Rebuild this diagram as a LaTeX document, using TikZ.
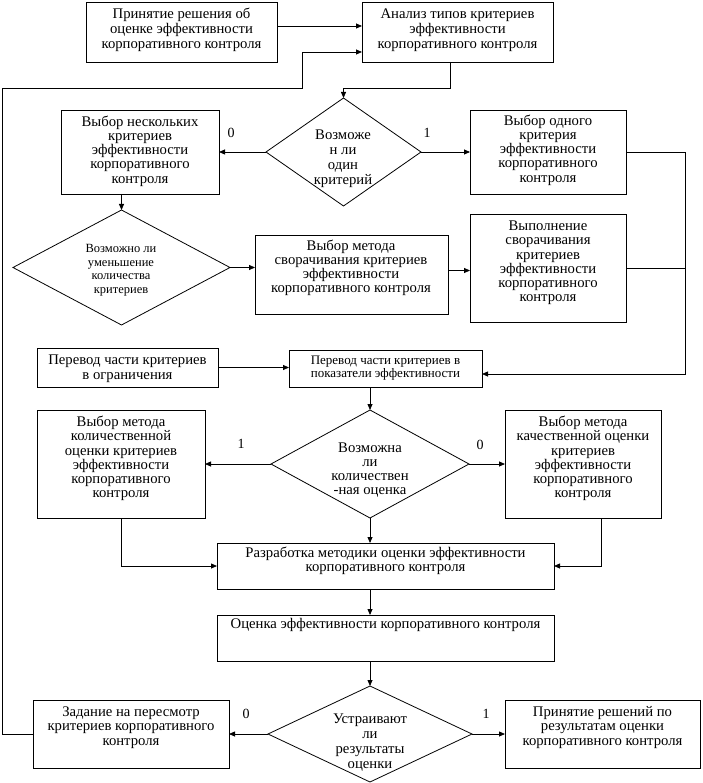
\documentclass[tikz,border=0pt]{standalone}
\usepackage{fontspec}
\setmainfont{Liberation Serif}
\usetikzlibrary{arrows.meta,shapes.geometric,calc}
\begin{document}
\begin{tikzpicture}[x=1pt,y=-1pt,line width=0.8pt,
  box/.style={draw,rectangle,inner sep=0pt,outer sep=0pt},
  dia/.style={draw,diamond,inner sep=0pt,outer sep=0pt},
  txt/.style={align=center,inner sep=0pt,font=\fontsize{14.7}{14.2}\selectfont},
  txtw/.style={align=center,inner sep=0pt,font=\fontsize{14.7}{15}\selectfont},
  txts/.style={align=center,inner sep=0pt,font=\fontsize{12.5}{13.5}\selectfont},
  txtj/.style={align=center,inner sep=0pt,font=\fontsize{13}{12.5}\selectfont},
  lbl/.style={inner sep=0pt,font=\fontsize{14}{14}\selectfont},
  arr/.style={-{Triangle[length=6pt,width=5pt]}}]
\useasboundingbox (0,0) rectangle (702,783);
\fill[white] (0,0) rectangle (702,783);

% boxes
\node[box,minimum width=191pt,minimum height=60pt] (A) at (181.5,32) {};
\node[box,minimum width=191pt,minimum height=60pt] (B) at (457.5,32) {};
\node[box,minimum width=158pt,minimum height=84pt] (C) at (140,152) {};
\node[dia,minimum width=155pt,minimum height=108pt] (D1) at (343.5,152) {};
\node[box,minimum width=156pt,minimum height=84pt] (E) at (548,152) {};
\node[dia,minimum width=217pt,minimum height=115pt] (D2) at (121.5,267.5) {};
\node[box,minimum width=193pt,minimum height=79pt] (G) at (351.5,274.5) {};
\node[box,minimum width=156pt,minimum height=108pt] (H) at (548,268) {};
\node[box,minimum width=181pt,minimum height=39pt] (I) at (127.5,367.5) {};
\node[box,minimum width=193pt,minimum height=37pt] (J) at (385.5,368.5) {};
\node[dia,minimum width=198pt,minimum height=108pt] (D3) at (370,464) {};
\node[box,minimum width=168pt,minimum height=108pt] (K) at (121,464) {};
\node[box,minimum width=156pt,minimum height=108pt] (L) at (583,464) {};
\node[box,minimum width=337pt,minimum height=46pt] (M) at (385.5,566) {};
\node[box,minimum width=337pt,minimum height=46pt] (N) at (385.5,638) {};
\node[dia,minimum width=204pt,minimum height=96pt] (D4) at (370,734) {};
\node[box,minimum width=196pt,minimum height=68pt] (O) at (131,734) {};
\node[box,minimum width=195pt,minimum height=68pt] (P) at (602.5,734) {};

% texts
\node[txtw] (At) at (181.5,30) {Принятие решения об\\оценке эффективности\\корпоративного контроля};
\node[txtw] (Bt) at (457.5,30) {Анализ типов критериев\\эффективности\\корпоративного контроля};
\node[txt] (Ct) at (140,151) {Выбор нескольких\\критериев\\эффективности\\корпоративного\\контроля};
\node[txtw] (D1t) at (343,159) {Возможе\\н ли\\один\\критерий};
\node[txt] (Et) at (548,150) {Выбор одного\\критерия\\эффективности\\корпоративного\\контроля};
\node[txts] (D2t) at (121,270) {Возможно ли\\уменьшение\\количества\\критериев};
\node[txt] (Gt) at (351,268) {Выбор метода\\сворачивания критериев\\эффективности\\корпоративного контроля};
\node[txt] (Ht) at (548,263) {Выполнение\\сворачивания\\критериев\\эффективности\\корпоративного\\контроля};
\node[txtw] (It) at (127.5,369) {Перевод части критериев\\в ограничения};
\node[txtj] (Jt) at (385.5,368) {Перевод части критериев в\\показатели эффективности};
\node[txt] (D3t) at (370,470) {Возможна\\ли\\количествен\\-ная оценка};
\node[txt] (Kt) at (121,458.5) {Выбор метода\\количественной\\оценки критериев\\эффективности\\корпоративного\\контроля};
\node[txt] (Lt) at (583,458.5) {Выбор метода\\качественной оценки\\критериев\\эффективности\\корпоративного\\контроля};
\node[txt] (Mt) at (385.5,561) {Разработка методики оценки эффективности\\корпоративного контроля};
\node[txt] (Nt) at (385.5,625) {Оценка эффективности корпоративного контроля};
\node[txtw] (D4t) at (370,743) {Устраивают\\ли\\результаты\\оценки};
\node[txt] (Ot) at (131,727.5) {Задание на пересмотр\\критериев корпоративного\\контроля};
\node[txt] (Pt) at (602.5,727.5) {Принятие решений по\\результатам оценки\\корпоративного контроля};

% labels
\node[lbl] (l0a) at (231,133) {0};
\node[lbl] (l1a) at (427,133) {1};
\node[lbl] (l1b) at (241,444) {1};
\node[lbl] (l0b) at (480,445) {0};
\node[lbl] (l0c) at (246,714) {0};
\node[lbl] (l1c) at (486,714) {1};

% connectors
\draw[arr] ([yshift=6pt]A.east) -- ([yshift=6pt]B.west);
\draw[arr] (O.west) -| (2,88) -| (302,52) -- ([yshift=-20pt]B.west);
\draw[arr] ([xshift=-7.5pt]B.south) -- ++(0,26) -| (D1.north);
\draw[arr] (D1.west) -- (C.east);
\draw[arr] (D1.east) -- (E.west);
\coordinate (rc) at (685,374);
\draw[arr] (E.east) -| (rc) -- (rc -| J.east);
\draw (H.east) -- (H.east -| rc);
\draw[arr] (C.south -| D2.north) -- (D2.north);
\draw[arr] (D2.east) -- (D2.east -| G.west);
\draw[arr] ([yshift=4pt]G.east) -- ([yshift=4pt]G.east -| H.west);
\draw[arr] (I.east) -- (I.east -| J.west);
\draw[arr] (J.south -| D3.north) -- (D3.north);
\draw[arr] (D3.west) -- (K.east);
\draw[arr] (D3.east) -- (L.west);
\draw[arr] (D3.south) -- (D3.south |- M.north);
\draw[arr] (K.south) |- (M.west);
\draw[arr] ([xshift=18pt]L.south) |- (M.east);
\draw[arr] (D3.south |- M.south) -- (D3.south |- N.north);
\draw[arr] (D4.north |- N.south) -- (D4.north);
\draw[arr] (D4.west) -- (O.east);
\draw[arr] (D4.east) -- (P.west);
\end{tikzpicture}
\end{document}
